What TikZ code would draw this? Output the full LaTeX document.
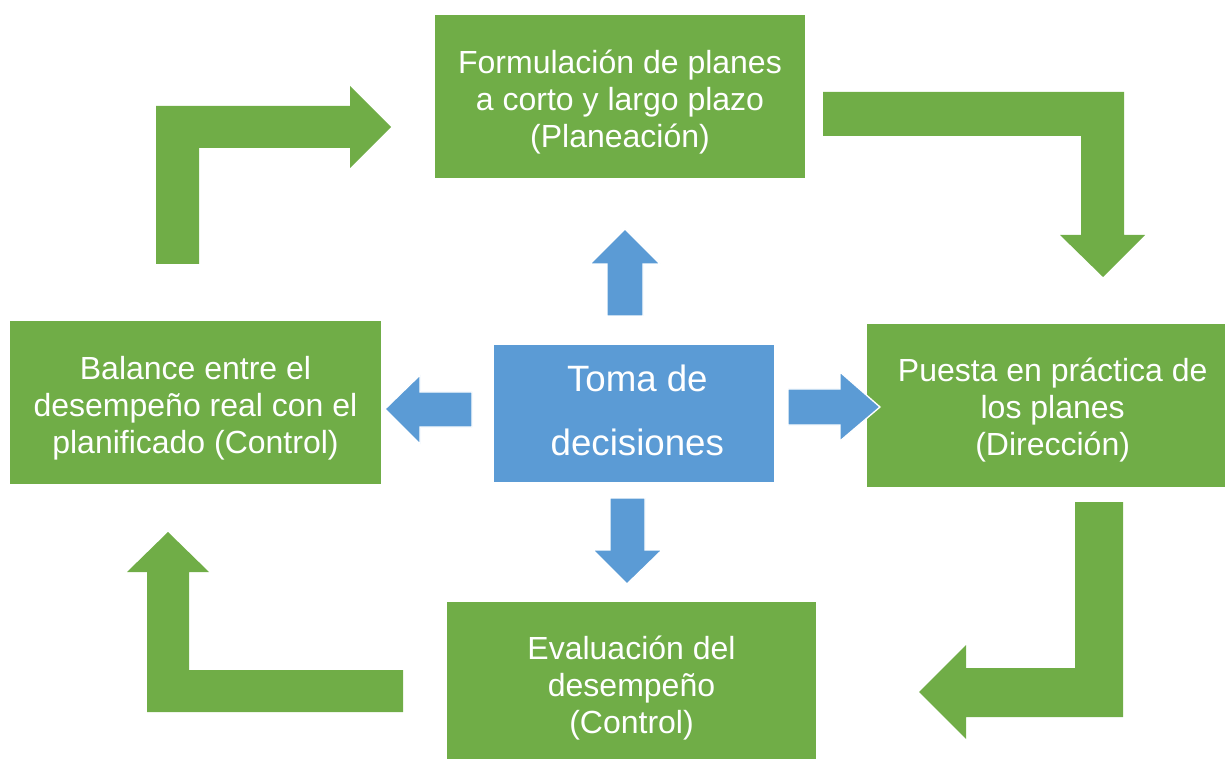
\documentclass[tikz,border=0pt]{standalone}
\usepackage{fontspec}
\setmainfont{Liberation Sans}
\definecolor{gr}{HTML}{70AD47}
\definecolor{bl}{HTML}{5B9BD5}
\begin{document}
\begin{tikzpicture}[x=0.75pt,y=-0.75pt,
  gbox/.style={fill=gr, inner sep=0pt},
  bbox/.style={fill=bl, inner sep=0pt},
  gtext/.style={text=white, align=center, inner sep=0pt,
    font=\fontsize{24}{27.75}\selectfont},
  btext/.style={text=white, align=center, inner sep=0pt,
    font=\fontsize{27.5}{48}\selectfont},
  garrow/.style={fill=gr},
  barrow/.style={fill=bl, draw=white, line width=1pt, line join=miter}]
\useasboundingbox (0,0) rectangle (1225,759);

% green bent arrows
\path[garrow] (156,264) -- (156,106) -- (350,106) -- (350,86) -- (391,127)
  -- (350,168) -- (350,148) -- (199,148) -- (199,264) -- cycle;
\path[garrow] (823,92) -- (1124,92) -- (1124,235) -- (1145,235) -- (1103,277)
  -- (1060,235) -- (1081,235) -- (1081,136) -- (823,136) -- cycle;
\path[garrow] (1123,502) -- (1123,717) -- (966,717) -- (966,739) -- (919,692)
  -- (966,645) -- (966,668) -- (1075,668) -- (1075,502) -- cycle;
\path[garrow] (403,712) -- (147,712) -- (147,572) -- (127,572) -- (168,532)
  -- (209,572) -- (189,572) -- (189,670) -- (403,670) -- cycle;

% boxes
\node[gbox, minimum width=277.5pt, minimum height=122.25pt] (plan) at (620,96.5) {};
\node[gbox, minimum width=268.5pt, minimum height=122.25pt] (dir) at (1046,405.5) {};
\node[gbox, minimum width=276.75pt, minimum height=117.75pt] (eval) at (631.5,680.5) {};
\node[gbox, minimum width=278.25pt, minimum height=122.25pt] (bal) at (195.5,402.5) {};
\node[bbox, minimum width=210pt, minimum height=102.75pt] (toma) at (634,413.5) {};

% texts
\node[gtext] (plant) at ([yshift=-4.5pt]plan.center)
  {Formulación de planes\\a corto y largo plazo\\(Planeación)};
\node[gtext] (dirt) at ([xshift=5pt,yshift=-3.75pt]dir.center)
  {Puesta en práctica de\\los planes\\(Dirección)};
\node[gtext] (evalt) at ([yshift=-6pt]eval.center)
  {Evaluación del\\desempeño\\(Control)};
\node[gtext] (balt) at ([yshift=-4pt]bal.center)
  {Balance entre el\\desempeño real con el\\planificado (Control)};
\node[btext] (tomat) at ([xshift=2.5pt,yshift=2.5pt]toma.center)
  {Toma de\\decisiones};

% blue arrows
\path[barrow] (607,316) -- (607,264) -- (590,264) -- (625,229) -- (660,264)
  -- (643,264) -- (643,316) -- cycle;
\path[barrow] (610,498) -- (645,498) -- (645,550) -- (662,550) -- (627,584)
  -- (593,550) -- (610,550) -- cycle;
\path[barrow] (472,392) -- (420,392) -- (420,375) -- (385,409) -- (420,444)
  -- (420,427) -- (472,427) -- cycle;
\path[barrow] (788,389) -- (840,389) -- (840,372) -- (880,407) -- (840,441)
  -- (840,425) -- (788,425) -- cycle;
\end{tikzpicture}
\end{document}
